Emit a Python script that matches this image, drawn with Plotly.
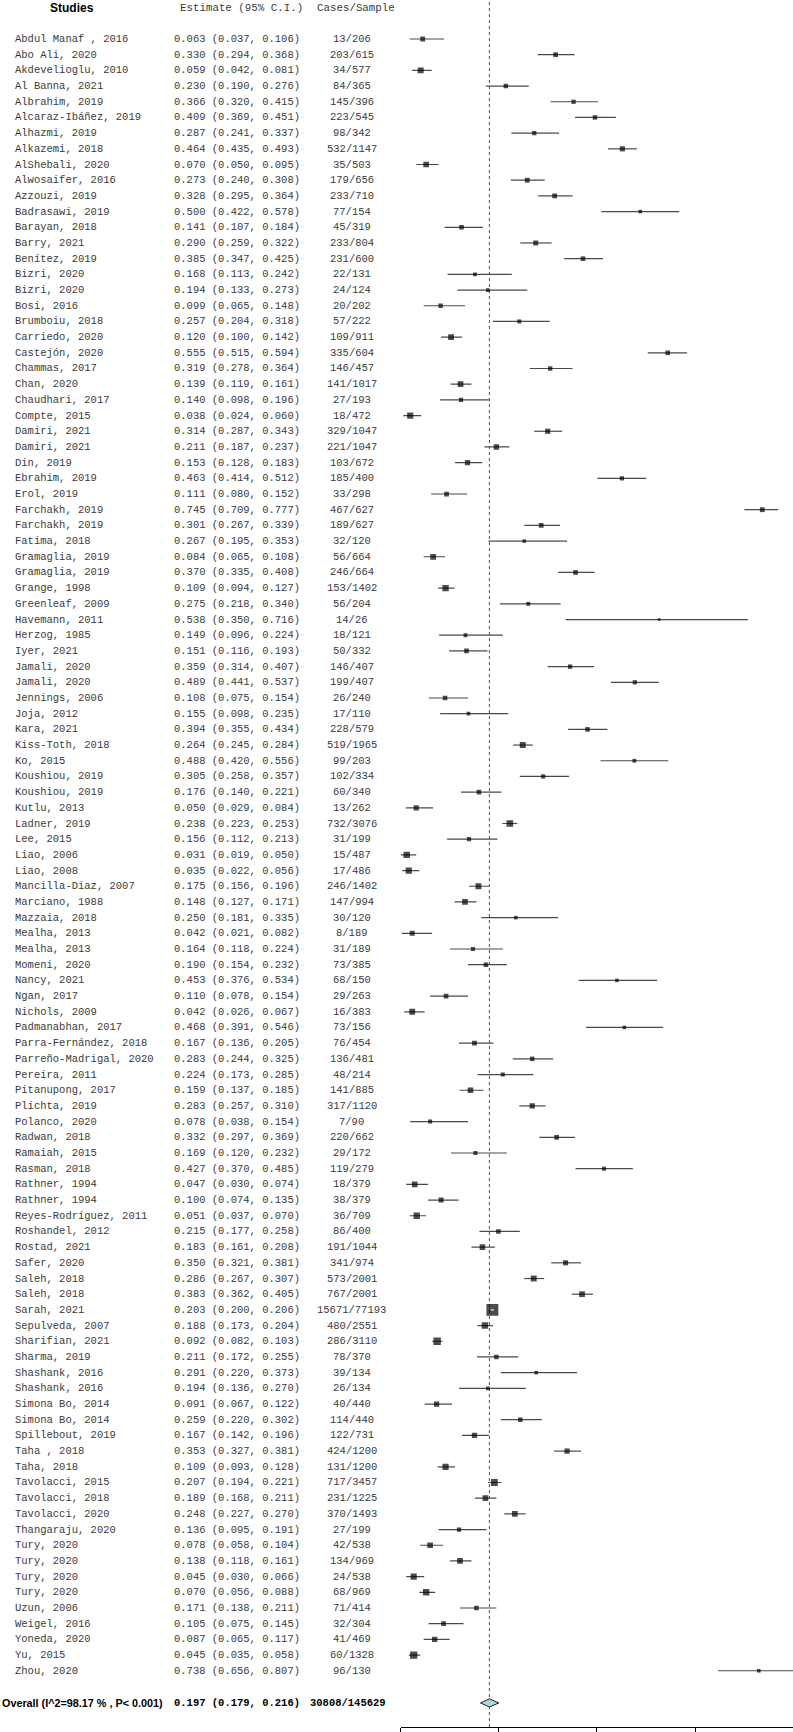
import plotly.graph_objects as go

studies = [
    "Abdul Manaf , 2016", "Abo Ali, 2020", "Akdevelioglu, 2010", "Al Banna, 2021", "Albrahim, 2019",
    "Alcaraz-Ibáñez, 2019", "Alhazmi, 2019", "Alkazemi, 2018", "AlShebali, 2020", "Alwosaifer, 2016",
    "Azzouzi, 2019", "Badrasawi, 2019", "Barayan, 2018", "Barry, 2021", "Benítez, 2019",
    "Bizri, 2020", "Bizri, 2020", "Bosi, 2016", "Brumboiu, 2018", "Carriedo, 2020",
    "Castejón, 2020", "Chammas, 2017", "Chan, 2020", "Chaudhari, 2017", "Compte, 2015",
    "Damiri, 2021", "Damiri, 2021", "Din, 2019", "Ebrahim, 2019", "Erol, 2019",
    "Farchakh, 2019", "Farchakh, 2019", "Fatima, 2018", "Gramaglia, 2019", "Gramaglia, 2019",
    "Grange, 1998", "Greenleaf, 2009", "Havemann, 2011", "Herzog, 1985", "Iyer, 2021",
    "Jamali, 2020", "Jamali, 2020", "Jennings, 2006", "Joja, 2012", "Kara, 2021",
    "Kiss-Toth, 2018", "Ko, 2015", "Koushiou, 2019", "Koushiou, 2019", "Kutlu, 2013",
    "Ladner, 2019", "Lee, 2015", "Liao, 2006", "Liao, 2008", "Mancilla-Diaz, 2007",
    "Marciano, 1988", "Mazzaia, 2018", "Mealha, 2013", "Mealha, 2013", "Momeni, 2020",
    "Nancy, 2021", "Ngan, 2017", "Nichols, 2009", "Padmanabhan, 2017", "Parra-Fernández, 2018",
    "Parreño-Madrigal, 2020", "Pereira, 2011", "Pitanupong, 2017", "Plichta, 2019", "Polanco, 2020",
    "Radwan, 2018", "Ramaiah, 2015", "Rasman, 2018", "Rathner, 1994", "Rathner, 1994",
    "Reyes-Rodríguez, 2011", "Roshandel, 2012", "Rostad, 2021", "Safer, 2020", "Saleh, 2018",
    "Saleh, 2018", "Sarah, 2021", "Sepulveda, 2007", "Sharifian, 2021", "Sharma, 2019",
    "Shashank, 2016", "Shashank, 2016", "Simona Bo, 2014", "Simona Bo, 2014", "Spillebout, 2019",
    "Taha , 2018", "Taha, 2018", "Tavolacci, 2015", "Tavolacci, 2018", "Tavolacci, 2020",
    "Thangaraju, 2020", "Tury, 2020", "Tury, 2020", "Tury, 2020", "Tury, 2020",
    "Uzun, 2006", "Weigel, 2016", "Yoneda, 2020", "Yu, 2015", "Zhou, 2020",
]

estimate = [
    0.063, 0.330, 0.059, 0.230, 0.366, 0.409, 0.287, 0.464, 0.070, 0.273,
    0.328, 0.500, 0.141, 0.290, 0.385, 0.168, 0.194, 0.099, 0.257, 0.120,
    0.555, 0.319, 0.139, 0.140, 0.038, 0.314, 0.211, 0.153, 0.463, 0.111,
    0.745, 0.301, 0.267, 0.084, 0.370, 0.109, 0.275, 0.538, 0.149, 0.151,
    0.359, 0.489, 0.108, 0.155, 0.394, 0.264, 0.488, 0.305, 0.176, 0.050,
    0.238, 0.156, 0.031, 0.035, 0.175, 0.148, 0.250, 0.042, 0.164, 0.190,
    0.453, 0.110, 0.042, 0.468, 0.167, 0.283, 0.224, 0.159, 0.283, 0.078,
    0.332, 0.169, 0.427, 0.047, 0.100, 0.051, 0.215, 0.183, 0.350, 0.286,
    0.383, 0.203, 0.188, 0.092, 0.211, 0.291, 0.194, 0.091, 0.259, 0.167,
    0.353, 0.109, 0.207, 0.189, 0.248, 0.136, 0.078, 0.138, 0.045, 0.070,
    0.171, 0.105, 0.087, 0.045, 0.738,
]

ci_low = [
    0.037, 0.294, 0.042, 0.190, 0.320, 0.369, 0.241, 0.435, 0.050, 0.240,
    0.295, 0.422, 0.107, 0.259, 0.347, 0.113, 0.133, 0.065, 0.204, 0.100,
    0.515, 0.278, 0.119, 0.098, 0.024, 0.287, 0.187, 0.128, 0.414, 0.080,
    0.709, 0.267, 0.195, 0.065, 0.335, 0.094, 0.218, 0.350, 0.096, 0.116,
    0.314, 0.441, 0.075, 0.098, 0.355, 0.245, 0.420, 0.258, 0.140, 0.029,
    0.223, 0.112, 0.019, 0.022, 0.156, 0.127, 0.181, 0.021, 0.118, 0.154,
    0.376, 0.078, 0.026, 0.391, 0.136, 0.244, 0.173, 0.137, 0.257, 0.038,
    0.297, 0.120, 0.370, 0.030, 0.074, 0.037, 0.177, 0.161, 0.321, 0.267,
    0.362, 0.200, 0.173, 0.082, 0.172, 0.220, 0.136, 0.067, 0.220, 0.142,
    0.327, 0.093, 0.194, 0.168, 0.227, 0.095, 0.058, 0.118, 0.030, 0.056,
    0.138, 0.075, 0.065, 0.035, 0.656,
]

ci_high = [
    0.106, 0.368, 0.081, 0.276, 0.415, 0.451, 0.337, 0.493, 0.095, 0.308,
    0.364, 0.578, 0.184, 0.322, 0.425, 0.242, 0.273, 0.148, 0.318, 0.142,
    0.594, 0.364, 0.161, 0.196, 0.060, 0.343, 0.237, 0.183, 0.512, 0.152,
    0.777, 0.339, 0.353, 0.108, 0.408, 0.127, 0.340, 0.716, 0.224, 0.193,
    0.407, 0.537, 0.154, 0.235, 0.434, 0.284, 0.556, 0.357, 0.221, 0.084,
    0.253, 0.213, 0.050, 0.056, 0.196, 0.171, 0.335, 0.082, 0.224, 0.232,
    0.534, 0.154, 0.067, 0.546, 0.205, 0.325, 0.285, 0.185, 0.310, 0.154,
    0.369, 0.232, 0.485, 0.074, 0.135, 0.070, 0.258, 0.208, 0.381, 0.307,
    0.405, 0.206, 0.204, 0.103, 0.255, 0.373, 0.270, 0.122, 0.302, 0.196,
    0.381, 0.128, 0.221, 0.211, 0.270, 0.191, 0.104, 0.161, 0.066, 0.088,
    0.211, 0.145, 0.117, 0.058, 0.807,
]

cases = [
    13, 203, 34, 84, 145, 223, 98, 532, 35, 179,
    233, 77, 45, 233, 231, 22, 24, 20, 57, 109,
    335, 146, 141, 27, 18, 329, 221, 103, 185, 33,
    467, 189, 32, 56, 246, 153, 56, 14, 18, 50,
    146, 199, 26, 17, 228, 519, 99, 102, 60, 13,
    732, 31, 15, 17, 246, 147, 30, 8, 31, 73,
    68, 29, 16, 73, 76, 136, 48, 141, 317, 7,
    220, 29, 119, 18, 38, 36, 86, 191, 341, 573,
    767, 15671, 480, 286, 78, 39, 26, 40, 114, 122,
    424, 131, 717, 231, 370, 27, 42, 134, 24, 68,
    71, 32, 41, 60, 96,
]

samples = [
    206, 615, 577, 365, 396, 545, 342, 1147, 503, 656,
    710, 154, 319, 804, 600, 131, 124, 202, 222, 911,
    604, 457, 1017, 193, 472, 1047, 1047, 672, 400, 298,
    627, 627, 120, 664, 664, 1402, 204, 26, 121, 332,
    407, 407, 240, 110, 579, 1965, 203, 334, 340, 262,
    3076, 199, 487, 486, 1402, 994, 120, 189, 189, 385,
    150, 263, 383, 156, 454, 481, 214, 885, 1120, 90,
    662, 172, 279, 379, 379, 709, 400, 1044, 974, 2001,
    2001, 77193, 2551, 3110, 370, 134, 134, 440, 440, 731,
    1200, 1200, 3457, 1225, 1493, 199, 538, 969, 538, 969,
    414, 304, 469, 1328, 130,
]

overall_label = "Overall (I^2=98.17 % , P< 0.001)"
overall_est = 0.197
overall_low = 0.179
overall_high = 0.216
overall_cases = 30808
overall_samples = 145629

axis_ticks = [0.019, 0.216, 0.412, 0.610, 0.807]

# page geometry (pixels)
W, H = 793, 1732
row0, row_h = 39.0, 15.69
axis_px = 1727
x0_px, px_per_unit = 391.3, 498.0
n = len(studies)
rows = list(range(n))
overall_row = n + 1.05

mono = "Liberation Mono, Courier New, monospace"
sans = "Liberation Sans, Arial, sans-serif"
txt_col = "#3a3a3a"

def px(v):
    return v / W

# box size grows with precision (1/SE from CI width)
inv_se = [3.92 / (h - l) for l, h in zip(ci_low, ci_high)]
box = [2.6 * (s / 10.7) ** 0.37 for s in inv_se]

fig = go.Figure()

# confidence interval lines
cx, cy = [], []
for i in rows:
    cx += [ci_low[i], ci_high[i], None]
    cy += [i, i, None]
fig.add_trace(go.Scatter(x=cx, y=cy, mode="lines", line=dict(color="#4a4a4a", width=1.2),
                         hoverinfo="skip"))

# point estimates
fig.add_trace(go.Scatter(x=estimate, y=rows, mode="markers",
                         marker=dict(symbol="square", size=box, color="black", line=dict(width=0)),
                         text=studies, hoverinfo="text+x"))

# CI drawn white where it sits inside its box
wx, wy = [], []
for i in rows:
    if (ci_high[i] - ci_low[i]) * px_per_unit < box[i]:
        wx += [ci_low[i], ci_high[i], None]
        wy += [i, i, None]
if wx:
    fig.add_trace(go.Scatter(x=wx, y=wy, mode="lines", line=dict(color="white", width=1.2),
                             hoverinfo="skip"))

# overall diamond
dh = 0.26
fig.add_trace(go.Scatter(
    x=[overall_low, overall_est, overall_high, overall_est, overall_low],
    y=[overall_row, overall_row - dh, overall_row, overall_row + dh, overall_row],
    mode="lines", fill="toself", fillcolor="#add8e6",
    line=dict(color="#222222", width=1), hoverinfo="skip"))

# dashed reference line at the pooled estimate
fig.add_shape(type="line", xref="x", yref="paper", x0=overall_est, x1=overall_est, y0=0, y1=1,
              line=dict(color="red", width=1, dash="3px,3px"), layer="below")

ann = []
# header
ann.append(dict(x=px(71.5), y=-1.96, text="<b>Studies</b>", xanchor="center",
                font=dict(family=sans, size=12, color="black")))
ann.append(dict(x=px(178), y=-1.96, text="Estimate (95% C.I.)", xanchor="left",
                font=dict(family=mono, size=10.8, color=txt_col)))
ann.append(dict(x=px(356), y=-1.96, text="Cases/Sample", xanchor="center",
                font=dict(family=mono, size=10.8, color=txt_col)))

for i in rows:
    ann.append(dict(x=px(12.7), y=i, text=studies[i], xanchor="left",
                    font=dict(family=mono, size=10.5, color=txt_col)))
    ann.append(dict(x=px(171.7), y=i,
                    text="%.3f (%.3f, %.3f)" % (estimate[i], ci_low[i], ci_high[i]),
                    xanchor="left", font=dict(family=mono, size=10.5, color=txt_col)))
    ann.append(dict(x=px(351.7), y=i, text="%d/%d" % (cases[i], samples[i]), xanchor="center",
                    font=dict(family=mono, size=10.5, color=txt_col)))

ann.append(dict(x=px(0), y=overall_row, text="<b>%s</b>" % overall_label, xanchor="left",
                font=dict(family=sans, size=10.8, color="black")))
ann.append(dict(x=px(171.7), y=overall_row,
                text="<b>%.3f (%.3f, %.3f)</b>" % (overall_est, overall_low, overall_high),
                xanchor="left", font=dict(family=mono, size=10.5, color="black")))
ann.append(dict(x=px(348), y=overall_row, text="<b>%d/%d</b>" % (overall_cases, overall_samples),
                xanchor="center", font=dict(family=mono, size=10.5, color="black")))

for a in ann:
    a.update(xref="paper", yref="y", showarrow=False, yanchor="middle")

x_left = (400.7 - x0_px) / px_per_unit
x_right = (W - x0_px) / px_per_unit
y_top = -row0 / row_h
y_bot = (axis_px - row0) / row_h

fig.update_layout(
    width=W, height=H,
    margin=dict(l=0, r=0, t=0, b=H - axis_px, pad=0),
    paper_bgcolor="white", plot_bgcolor="white",
    showlegend=False,
    annotations=ann,
    xaxis=dict(domain=[400.7 / W, 1], range=[x_left, x_right], showgrid=False, zeroline=False,
               showline=True, linecolor="black", linewidth=1, ticks="outside", ticklen=6,
               tickcolor="black", tickwidth=1, tickvals=axis_ticks, showticklabels=False),
    yaxis=dict(range=[y_bot, y_top], visible=False, showgrid=False, zeroline=False),
)

fig.write_html("out.html", config={"displayModeBar": False},
               post_script="document.body.style.margin='0';")
